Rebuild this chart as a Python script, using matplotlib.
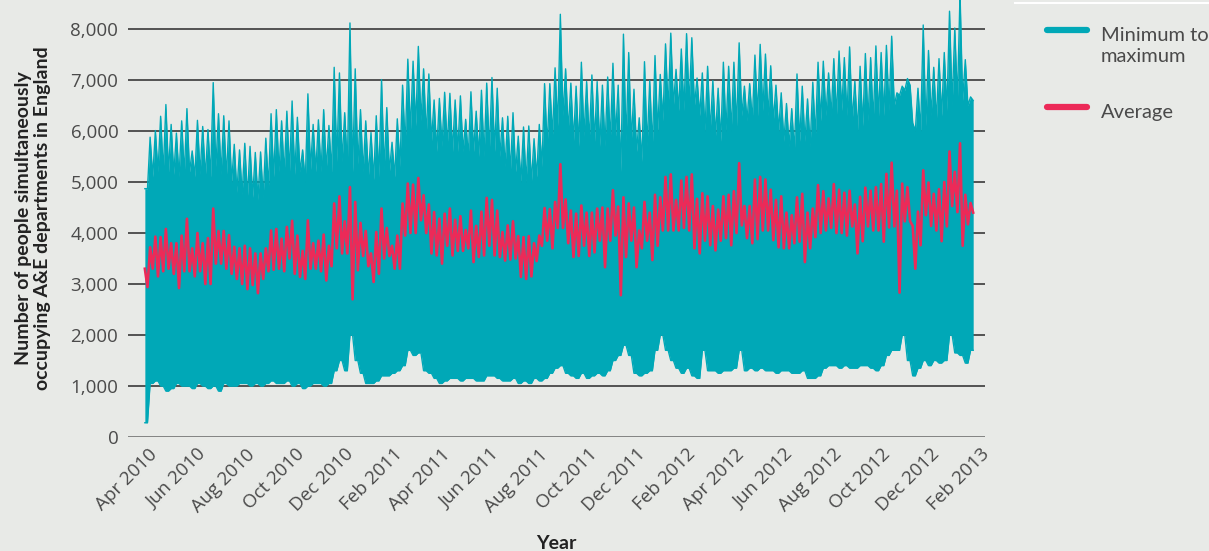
import numpy as np
import pandas as pd
import matplotlib
matplotlib.use('Agg')
from matplotlib import pyplot as plt
from matplotlib.lines import Line2D

# weekly readings (one per Monday spike)
peak_max = [
    4870, 5880, 6010, 6290, 6520, 6130, 5960, 6200, 6440, 5610, 6210, 6090, 6030, 6950, 6340, 6300, 6200, 5740, 5630, 5760, 5700, 5580, 5590, 5860, 6340, 6420, 6200,
    6390, 6590, 6270, 5630, 6730, 6130, 6220, 6420, 6110, 7250, 7140, 6360, 8120, 7220, 6420, 6200, 5970, 6300, 7010, 6460, 5780, 6240, 6900, 7410, 7370, 7660,
    7220, 7120, 6610, 6640, 6760, 6740, 6610, 6690, 6230, 6770, 6390, 6800, 6940, 7050, 6840, 6260, 6290, 6360, 5900, 6080, 6100, 5850, 6130, 6930, 6930, 7240, 8290,
    7220, 6940, 6880, 7350, 6970, 7100, 6970, 6900, 7060, 7330, 6900, 7900, 7540, 6820, 6260, 7360, 6990, 7480, 7110, 7710, 7920, 7210, 7610, 7910, 7830, 7040,
    7140, 7270, 6990, 6840, 7350, 7270, 7350, 7730, 6880, 6930, 7490, 7700, 7510, 7280, 6900, 6750, 6540, 6440, 7120, 6880, 6630, 6960, 7350, 7370, 7140, 7420, 7570,
    7440, 7650, 6980, 7270, 7520, 7440, 7670, 7540, 7680, 7860, 6750, 6880, 7030, 6160, 6840, 8080, 7580, 7250, 7420, 7540, 8350, 8020, 8700, 7400, 6670,
]
body_top = [
    4870, 5100, 5200, 5200, 5200, 5150, 5100, 5150, 5200, 5100, 5150, 5100, 5100, 5300, 5150, 5100, 5000, 4800, 4750, 4700, 4700, 4650, 4700, 4900, 5100, 5200, 5150,
    5200, 5150, 5200, 5000, 5250, 5200, 5200, 5250, 5200, 5400, 5400, 5300, 5200, 5350, 5200, 5100, 5050, 5100, 5250, 5200, 5100, 5300, 5700, 6000, 6100, 6200,
    5900, 5800, 5600, 5700, 5700, 5600, 5600, 5600, 5500, 5600, 5500, 5500, 5600, 5600, 5500, 5300, 5200, 5200, 5000, 5000, 5000, 5100, 5300, 5700, 5900, 6100, 6300,
    6000, 5800, 5700, 5900, 5800, 5800, 5700, 5700, 5800, 5900, 5200, 5800, 5800, 5600, 5400, 5700, 5700, 6000, 6200, 6400, 6500, 6400, 6400, 6500, 6500, 6300,
    6000, 6000, 5900, 5800, 6000, 6000, 6100, 6300, 6200, 6200, 6300, 6400, 6300, 6200, 6000, 5800, 5700, 5600, 5800, 5800, 5700, 5900, 6200, 6300, 6300, 6300, 6400,
    6300, 6200, 6000, 6100, 6200, 6200, 6300, 6300, 6400, 6500, 6700, 6800, 6900, 6000, 6000, 6100, 6300, 6200, 6300, 6400, 6500, 6600, 6600, 6500, 6600,
]
week_min = [
    280, 1050, 1100, 1000, 900, 950, 1050, 1000, 1000, 950, 1050, 1000, 950, 1000, 900, 1050, 1000, 1000, 1050, 1050, 1000, 1050, 1000, 1050, 1100, 1050, 1050,
    1100, 1000, 1050, 950, 1000, 1050, 1050, 1000, 1050, 1300, 1500, 1300, 2000, 1500, 1250, 1050, 1050, 1100, 1200, 1200, 1250, 1300, 1400, 1700, 1600, 1650,
    1300, 1250, 1150, 1050, 1100, 1150, 1150, 1100, 1150, 1150, 1100, 1100, 1200, 1200, 1150, 1100, 1100, 1150, 1050, 1100, 1050, 1150, 1100, 1150, 1250, 1350, 1400,
    1250, 1200, 1150, 1250, 1150, 1200, 1250, 1200, 1300, 1500, 1600, 1800, 1600, 1250, 1200, 1250, 1300, 1700, 2000, 1700, 1500, 1350, 1250, 1350, 1200, 1150,
    1700, 1300, 1300, 1250, 1300, 1300, 1350, 1700, 1300, 1350, 1300, 1350, 1300, 1300, 1250, 1300, 1300, 1250, 1250, 1300, 1150, 1150, 1200, 1350, 1400, 1400, 1350,
    1400, 1350, 1350, 1400, 1400, 1350, 1300, 1400, 1600, 1700, 1700, 2000, 1500, 1200, 1350, 1500, 1400, 1500, 1450, 1500, 2000, 1650, 1600, 1450, 1700,
]
avg_high = [
    3300, 3720, 3930, 3920, 4080, 3800, 3800, 3950, 4280, 3700, 4000, 3800, 3900, 4480, 4040, 4040, 3960, 3730, 3700, 3750, 3700, 3600, 3600, 3700, 4050, 4080, 3890,
    4120, 4240, 3950, 3650, 4250, 3800, 3850, 3970, 3750, 4580, 4720, 4230, 4900, 4610, 4200, 4040, 3600, 4020, 4480, 4100, 3750, 3950, 4580, 4970, 4950, 5080,
    4740, 4560, 4410, 4280, 4380, 4480, 4260, 4330, 4060, 4440, 4140, 4420, 4690, 4650, 4440, 4020, 4150, 4230, 3940, 3920, 3940, 3800, 3950, 4490, 4470, 4610, 5350,
    4660, 4440, 4380, 4540, 4400, 4400, 4480, 4500, 4480, 4840, 4520, 4700, 4580, 4500, 4050, 4610, 4400, 4750, 4700, 5100, 5150, 4650, 5030, 5100, 5150, 4670,
    4780, 4720, 4530, 4460, 4720, 4750, 4820, 5370, 4530, 4530, 5050, 5100, 5050, 4850, 4650, 4720, 4400, 4350, 4700, 4770, 4400, 4480, 4940, 4820, 4680, 4960, 4850,
    4790, 4830, 4560, 4710, 4890, 4830, 4900, 4960, 5160, 5380, 4830, 4970, 4900, 4140, 4420, 5230, 4990, 4770, 4860, 5000, 5600, 5200, 5760, 4750, 4590,
]
avg_low = [
    2940, 3300, 3150, 3250, 3300, 3200, 2920, 3250, 3250, 3150, 3250, 3000, 3000, 3400, 3400, 3300, 3200, 3100, 3000, 2900, 2980, 2820, 3100, 3250, 3280, 3300, 3250,
    3500, 3200, 3140, 3100, 3300, 3300, 3250, 3070, 3350, 3700, 3600, 3600, 2700, 3270, 3550, 3350, 3040, 3200, 3500, 3550, 3300, 3300, 3950, 4000, 4000, 4250,
    4000, 3600, 3560, 3400, 3750, 3560, 3650, 3650, 3700, 3430, 3530, 3560, 3750, 3560, 3530, 3460, 3480, 3500, 3140, 3100, 3150, 3450, 3750, 3850, 3700, 4100, 4100,
    3800, 3530, 3550, 3750, 3550, 3620, 3850, 3330, 3850, 3950, 2780, 3530, 3850, 3330, 3700, 3850, 3470, 3750, 4050, 4050, 4050, 4050, 4100, 4050, 3700, 3600,
    3850, 3760, 3660, 3850, 3900, 3760, 4000, 4150, 3900, 3800, 3880, 4050, 4050, 3860, 3720, 3700, 3700, 3800, 3830, 3430, 3700, 3920, 4000, 4050, 4100, 4000, 4000,
    3950, 4130, 3600, 3840, 4130, 4050, 4050, 3830, 4110, 4130, 2830, 4230, 4230, 3300, 3760, 4350, 4140, 4050, 3840, 4130, 4530, 4410, 3750, 4170, 4400,
]

tick_dates = pd.date_range('2010-04-01', '2013-02-01', freq='2MS')
tick_labels = [d.strftime('%b %Y') for d in tick_dates]

teal = '#00A8B7'
red = '#EC2A58'
bg = '#E8EAE7'
txt = '#4a4a4a'

n = len(peak_max)
x = pd.date_range('2010-03-28', '2013-01-20', periods=n)
step = x[1] - x[0]
xa = pd.date_range(x[0], x[-1] + step / 2, periods=2 * n)
# weekly spike, then the level the other days reach; weekly low below
upper = np.column_stack([peak_max, body_top]).ravel()
lower = np.repeat(week_min, 2)
avg = np.column_stack([avg_high, avg_low]).ravel()

plt.rcParams['font.family'] = ['Open Sans', 'DejaVu Sans']

fig = plt.figure(figsize=(12.09, 5.51), dpi=100, facecolor=bg)
ax = fig.add_axes([128 / 1209, 114 / 551, 857 / 1209, 437 / 551])
ax.set_facecolor(bg)

ax.fill_between(xa, lower, upper, color=teal, lw=0, zorder=3)
ax.plot(xa, upper, color=teal, lw=1.0, solid_joinstyle='round', zorder=3)
ax.plot(xa, lower, color=teal, lw=1.0, zorder=3)
ax.plot(xa, avg, color=red, lw=1.9, zorder=4)

ax.set_ylim(0, 8570)
ax.set_xlim(pd.Timestamp('2010-03-07'), pd.Timestamp('2013-02-07'))
ax.set_yticks(range(0, 8001, 1000))
ax.set_yticklabels([f'{v:,}' for v in range(0, 8001, 1000)])
ax.set_xticks(tick_dates)
ax.set_xticklabels(tick_labels, rotation=45, ha='right', rotation_mode='anchor')
for v in range(1000, 8001, 1000):
    ax.axhline(v, color='#2a2a2a', lw=1.1, zorder=1)
ax.axhline(0, color='#7a7a7a', lw=2, zorder=1)
for s in ax.spines.values():
    s.set_visible(False)
ax.tick_params(length=0, labelsize=13.5, labelcolor=txt, pad=7)
ax.tick_params(axis='x', pad=6)

ax.set_ylabel('Number of people simultaneously\noccupying A&E departments in England',
              fontsize=14, fontweight='bold', color='#222222', labelpad=14,
              family=['Lato', 'DejaVu Sans'], linespacing=1.15)
ax.set_xlabel('Year', fontsize=14, fontweight='bold', color='#222222', labelpad=14,
              family=['Lato', 'DejaVu Sans'])

# legend drawn by hand so the keys sit on the first text line
W, H = 1209, 551
for ypix, col in [(30, teal), (107, red)]:
    fig.add_artist(Line2D([1047 / W, 1087 / W], [1 - ypix / H] * 2, color=col, lw=4.5,
                          solid_capstyle='round', transform=fig.transFigure))
fig.text(1101 / W, 1 - 27 / H, 'Minimum to\nmaximum', fontsize=14.5, color=txt,
         va='top', ha='left', linespacing=1.3, family=['Lato', 'DejaVu Sans'])
fig.text(1101 / W, 1 - 104 / H, 'Average', fontsize=14.5, color=txt, va='top', ha='left',
         family=['Lato', 'DejaVu Sans'])
fig.add_artist(Line2D([1015 / W, 1], [1 - 3 / H] * 2, color='white', lw=1.5,
                      transform=fig.transFigure))

fig.savefig('out.png', dpi=100, facecolor=bg)
